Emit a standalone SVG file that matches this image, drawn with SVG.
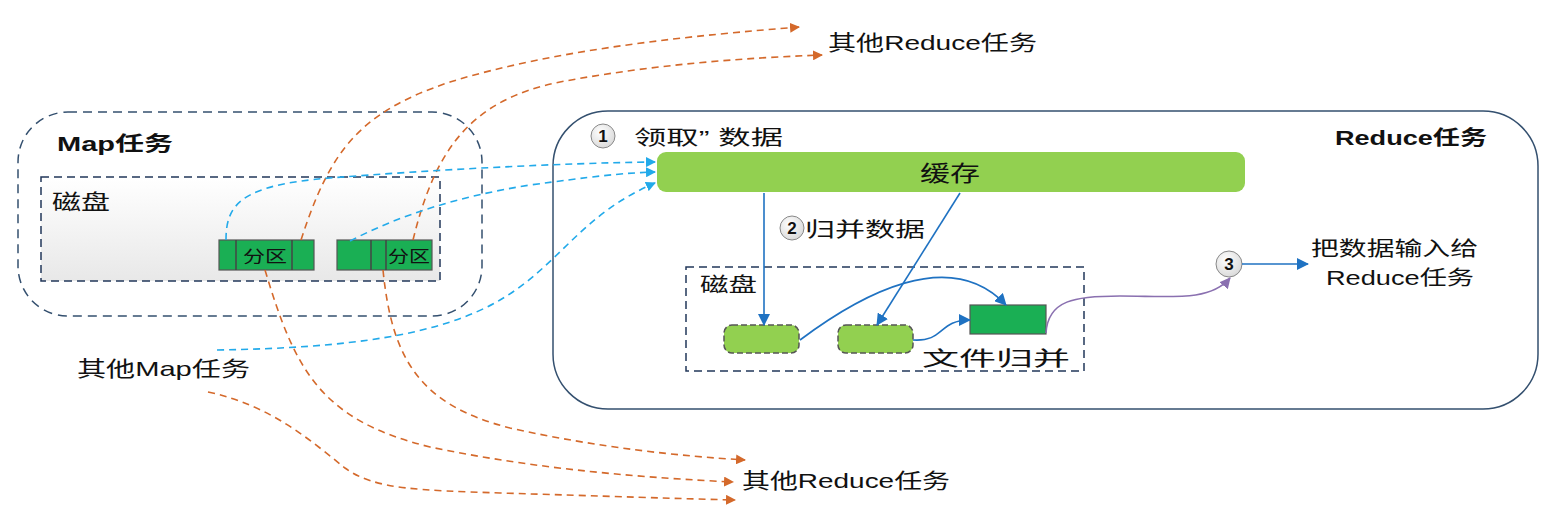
<svg xmlns="http://www.w3.org/2000/svg" width="1556" height="514" viewBox="0 0 1556 514">
<defs>
<style>
text{font-family:"Liberation Sans","Noto Sans CJK SC",sans-serif;fill:#111}
.b{font-weight:bold}
.box{fill:none;stroke:#34506f;stroke-width:1.5}
.dash{stroke-dasharray:9,6}
.disk{stroke:#22375a;stroke-width:1.5;stroke-dasharray:8,5}
.part{fill:#1aaf54;stroke:#555;stroke-width:1.2}
.small{fill:#92d050;stroke:#555;stroke-width:1.5;stroke-dasharray:6,3}
.or{fill:none;stroke:#d4692b;stroke-width:1.6;stroke-dasharray:7,5;marker-end:url(#mo)}
.lb{fill:none;stroke:#22aaea;stroke-width:1.6;stroke-dasharray:7,5;marker-end:url(#ml)}
.bl{fill:none;stroke:#1f72c2;stroke-width:1.6;marker-end:url(#mb)}
.pu{fill:none;stroke:#8a70b0;stroke-width:1.6;marker-end:url(#mp)}
.num{fill:url(#gc);stroke:#888;stroke-width:1}
.nt{font-weight:bold;font-size:17px}
</style>
<linearGradient id="gd" x1="0" y1="0" x2="0" y2="1"><stop offset="0" stop-color="#ffffff"/><stop offset="1" stop-color="#e8e8e8"/></linearGradient>
<radialGradient id="gc" cx="0.4" cy="0.35" r="0.7"><stop offset="0" stop-color="#ffffff"/><stop offset="1" stop-color="#d8d8d8"/></radialGradient>
<marker id="mo" markerWidth="10" markerHeight="10" refX="9" refY="5" orient="auto" markerUnits="userSpaceOnUse"><path d="M0,0 L10,5 L0,10 z" fill="#d4692b"/></marker>
<marker id="ml" markerWidth="10" markerHeight="10" refX="9" refY="5" orient="auto" markerUnits="userSpaceOnUse"><path d="M0,0 L10,5 L0,10 z" fill="#22aaea"/></marker>
<marker id="mb" markerWidth="12" markerHeight="12" refX="11" refY="6" orient="auto" markerUnits="userSpaceOnUse"><path d="M0,0 L12,6 L0,12 z" fill="#1f72c2"/></marker>
<marker id="mp" markerWidth="11" markerHeight="11" refX="10" refY="5.5" orient="auto" markerUnits="userSpaceOnUse"><path d="M0,0 L11,5.5 L0,11 z" fill="#8a70b0"/></marker>
</defs>

<g id="map-task">
<rect class="box dash" x="18" y="112" width="464" height="204" rx="50"/>
<text class="b" x="57" y="151" font-size="20" textLength="116" lengthAdjust="spacingAndGlyphs">Map任务</text>
</g>
<g id="map-disk">
<rect class="disk" x="41" y="177" width="399" height="104" fill="url(#gd)"/>
<text x="52" y="209" font-size="21" textLength="58" lengthAdjust="spacingAndGlyphs">磁盘</text>
</g>
<g id="partition-1">
<rect class="part" x="219" y="240" width="95" height="30"/>
<line x1="236" y1="240" x2="236" y2="270" stroke="#444" stroke-width="1.5"/>
<line x1="292" y1="240" x2="292" y2="270" stroke="#444" stroke-width="1.5"/>
<text x="243" y="262" font-size="16" textLength="44" lengthAdjust="spacingAndGlyphs">分区</text>
</g>
<g id="partition-2">
<rect class="part" x="337" y="240" width="95" height="30"/>
<line x1="371" y1="240" x2="371" y2="270" stroke="#444" stroke-width="1.5"/>
<line x1="386" y1="240" x2="386" y2="270" stroke="#444" stroke-width="1.5"/>
<text x="388" y="262" font-size="16" textLength="42" lengthAdjust="spacingAndGlyphs">分区</text>
</g>
<g id="other-map">
<text x="77" y="376" font-size="21" textLength="173" lengthAdjust="spacingAndGlyphs">其他Map任务</text>
</g>
<g id="other-reduce-top">
<text x="828" y="50" font-size="21" textLength="209" lengthAdjust="spacingAndGlyphs">其他Reduce任务</text>
</g>
<g id="other-reduce-bottom">
<text x="742" y="488" font-size="21" textLength="208" lengthAdjust="spacingAndGlyphs">其他Reduce任务</text>
</g>

<g id="reduce-task">
<rect class="box" x="553" y="111" width="985" height="298" rx="55"/>
<text class="b" x="1335" y="145" font-size="20" textLength="152" lengthAdjust="spacingAndGlyphs">Reduce任务</text>
</g>
<g id="step-1">
<circle class="num" cx="603" cy="136" r="12"/>
<text class="nt" x="603" y="142" text-anchor="middle">1</text>
<text x="634" y="145" font-size="20" textLength="149" lengthAdjust="spacingAndGlyphs">领取” 数据</text>
</g>
<g id="cache">
<rect x="657" y="152" width="588" height="40" rx="9" fill="#92d050"/>
<text x="950" y="181" font-size="22" text-anchor="middle" textLength="60" lengthAdjust="spacingAndGlyphs">缓存</text>
</g>
<g id="step-2">
<circle class="num" cx="792" cy="228" r="12"/>
<text class="nt" x="792" y="234" text-anchor="middle">2</text>
<text x="805" y="237" font-size="20" textLength="120" lengthAdjust="spacingAndGlyphs">归并数据</text>
</g>
<g id="reduce-disk">
<rect class="disk" x="686" y="267" width="398" height="104" fill="none"/>
<text x="700" y="292" font-size="20" textLength="57" lengthAdjust="spacingAndGlyphs">磁盘</text>
</g>
<g id="file-1"><rect class="small" x="724" y="325" width="75" height="28" rx="8"/></g>
<g id="file-2"><rect class="small" x="838" y="325" width="75" height="28" rx="8"/></g>
<g id="merged-file">
<rect class="part" x="970" y="305" width="76" height="29"/>
<text x="922" y="366" font-size="20" textLength="148" lengthAdjust="spacingAndGlyphs">文件归并</text>
</g>
<g id="step-3">
<circle class="num" cx="1229" cy="264" r="13"/>
<text class="nt" x="1229" y="270" text-anchor="middle">3</text>
</g>
<g id="output">
<text x="1311" y="256" font-size="20" textLength="167" lengthAdjust="spacingAndGlyphs">把数据输入给</text>
<text x="1326" y="285" font-size="20" textLength="148" lengthAdjust="spacingAndGlyphs">Reduce任务</text>
</g>

<g id="connectors">
<path class="or" d="M301,240 C330,150 360,112 450,82 C560,48 700,35 799,27"/>
<path class="or" d="M413,240 C435,150 470,100 560,82 C650,65 740,58 822,55"/>
<path class="or" d="M265,270 C295,370 320,420 430,447 C540,470 650,478 733,482"/>
<path class="or" d="M383,270 C392,360 420,405 510,428 C600,448 680,456 745,460"/>
<path class="or" d="M208,392 C270,405 310,440 345,468 C375,490 420,490 500,493 C600,496 690,499 735,500"/>
<path class="lb" d="M226,240 C226,205 240,185 330,178 C430,170 560,163 655,162"/>
<path class="lb" d="M350,241 C400,215 460,196 530,185 C590,177 620,173 655,172"/>
<path class="lb" d="M217,350 C350,348 440,335 500,300 C560,265 580,215 655,183"/>
<path class="bl" d="M764,193 L764,325"/>
<path class="bl" d="M960,193 L877,325"/>
<path class="bl" d="M800,340 C860,295 950,245 1006,305"/>
<path class="bl" d="M913,340 C945,342 938,320 970,320"/>
<path class="pu" d="M1046,333 C1048,300 1075,296 1120,296 C1170,296 1210,302 1230,278"/>
<path class="bl" d="M1242,264 L1308,264"/>
</g>
</svg>
